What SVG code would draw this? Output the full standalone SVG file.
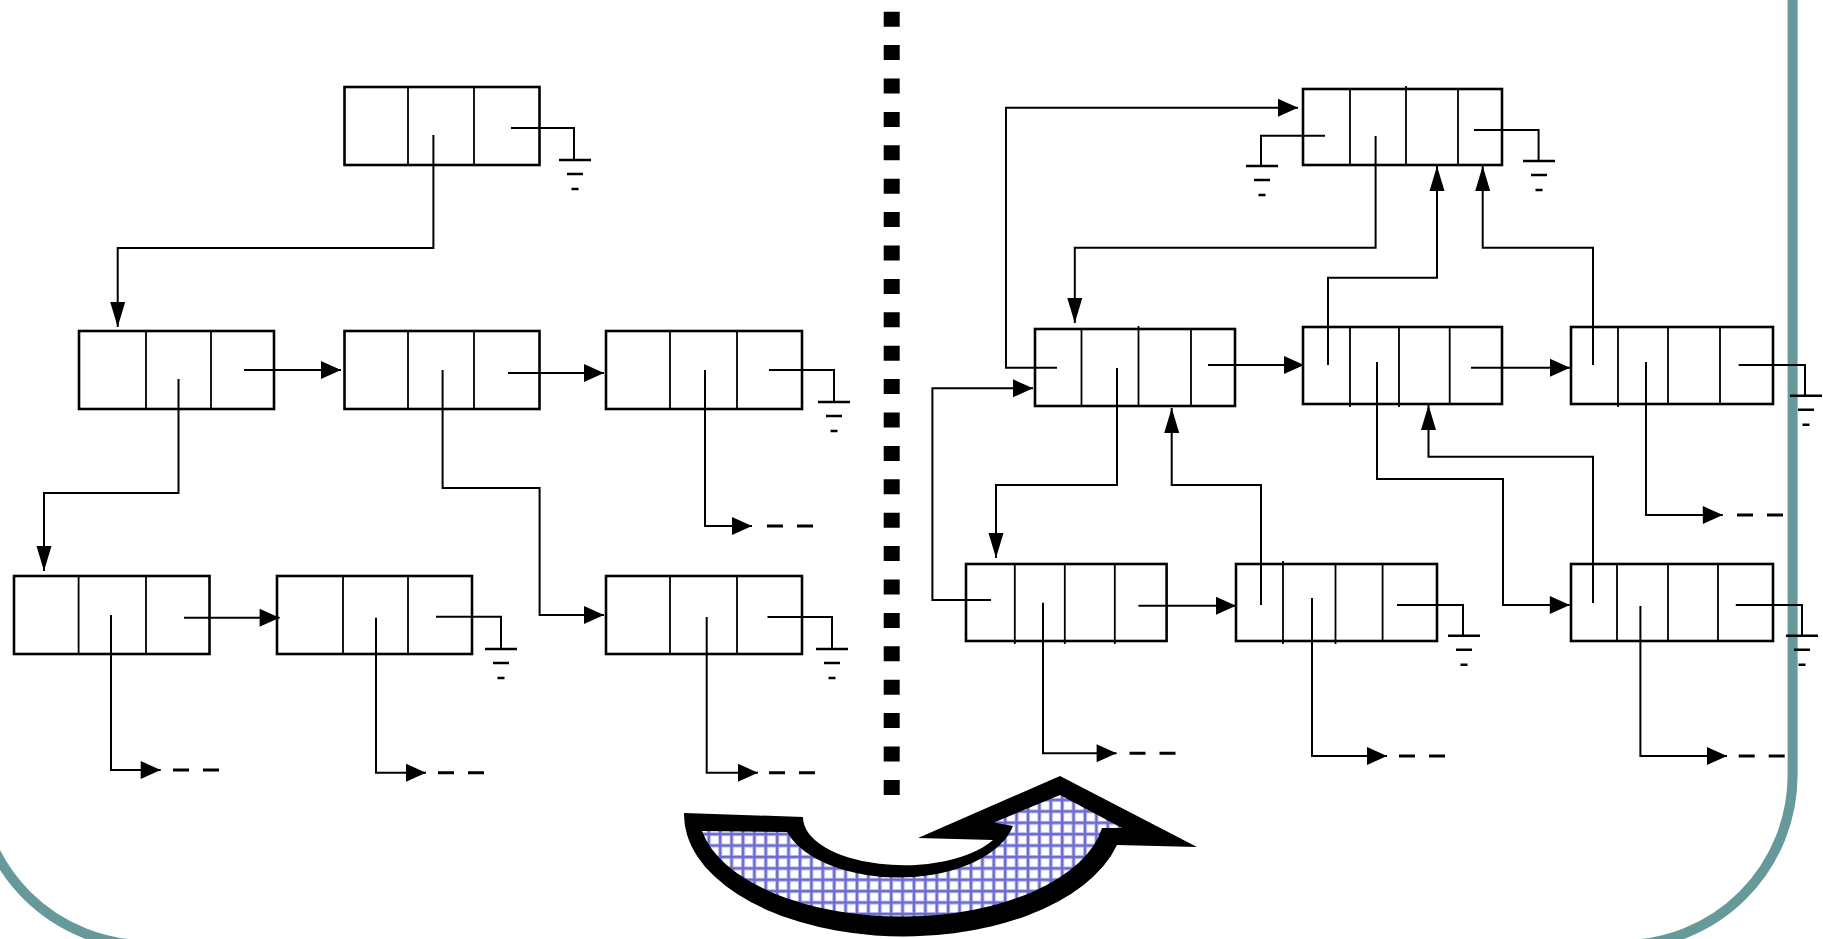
<svg xmlns="http://www.w3.org/2000/svg" width="1823" height="939" viewBox="0 0 1823 939">
<style>
 .box{fill:none;stroke:#000;stroke-width:2.6}
 .dv{fill:none;stroke:#000;stroke-width:1.8}
 .c{fill:none;stroke:#000;stroke-width:2}
 .ah{marker-end:url(#mh)}
 .av{marker-end:url(#mv)}
 .dash{fill:none;stroke:#000;stroke-width:3;stroke-dasharray:16 14}
 .g{fill:none;stroke:#000;stroke-width:2.6}
</style>
<defs>
 <marker id="mh" markerUnits="userSpaceOnUse" markerWidth="21" markerHeight="19" refX="20" refY="9" orient="auto" overflow="visible"><path d="M0,0 L20,9 L0,18 Z" fill="#000"/></marker>
 <marker id="mv" markerUnits="userSpaceOnUse" markerWidth="26" markerHeight="16" refX="25" refY="7.5" orient="auto" overflow="visible"><path d="M0,0 L25,7.5 L0,15 Z" fill="#000"/></marker>
 <g id="gnd"><path class="g" d="M-16,0H16M-8,14H8M-3.5,29H3.5"/></g>
 <pattern id="grid" patternUnits="userSpaceOnUse" width="11.4" height="11.4">
  <rect width="11.4" height="11.4" fill="#fff"/>
  <rect x="0" y="0" width="4" height="11.4" fill="#babae9"/>
  <rect x="0" y="0" width="11.4" height="4" fill="#babae9"/>
  <rect x="0.9" y="0" width="2.2" height="11.4" fill="#6a6ad0"/>
  <rect x="0" y="0.9" width="11.4" height="2.2" fill="#6a6ad0"/>
 </pattern>
</defs>
<rect width="1823" height="939" fill="#fff"/>
<rect id="frame" x="-23" y="-300" width="1815.6" height="1245" rx="170" ry="170" fill="none" stroke="#669999" stroke-width="10"/>
<line id="divider" x1="891.7" y1="11.7" x2="891.7" y2="796" stroke="#000" stroke-width="16" stroke-dasharray="15 18.4"/>

<!-- left tree nodes -->
<g id="n-l0"><rect class="box" x="344.5" y="87" width="195" height="78"/><path class="dv" d="M408,87V165M474,87V165"/></g>
<g id="n-l1"><rect class="box" x="79" y="331" width="195" height="78"/><path class="dv" d="M146,331V409M211,331V409"/></g>
<g id="n-l2"><rect class="box" x="344.5" y="331" width="195" height="78"/><path class="dv" d="M408,331V409M474,331V409"/></g>
<g id="n-l3"><rect class="box" x="606" y="331" width="196" height="78"/><path class="dv" d="M670,331V409M737,331V409"/></g>
<g id="n-l4"><rect class="box" x="14" y="576" width="195.5" height="78"/><path class="dv" d="M78.6,576V654M146,576V654"/></g>
<g id="n-l5"><rect class="box" x="277" y="576" width="195" height="78"/><path class="dv" d="M343,576V654M408,576V654"/></g>
<g id="n-l6"><rect class="box" x="606" y="576" width="196" height="78"/><path class="dv" d="M670,576V654M737,576V654"/></g>

<!-- right graph nodes -->
<g id="n-r0"><rect class="box" x="1303" y="89" width="199" height="76"/><path class="dv" d="M1350,89V165M1406,86V165M1458,89V165"/></g>
<g id="n-r1"><rect class="box" x="1035" y="329" width="200" height="77"/><path class="dv" d="M1081.5,329V406M1138.5,326V406M1191,329V406"/></g>
<g id="n-r2"><rect class="box" x="1303" y="327" width="199" height="77"/><path class="dv" d="M1350,327V407M1399,327V407M1449.7,327V404"/></g>
<g id="n-r3"><rect class="box" x="1571" y="327" width="202" height="77"/><path class="dv" d="M1618,327V407M1668,327V404M1720,327V404"/></g>
<g id="n-r4"><rect class="box" x="966" y="564" width="200.6" height="77"/><path class="dv" d="M1014.8,564V644M1064.8,564V644M1114.8,564V644"/></g>
<g id="n-r5"><rect class="box" x="1236" y="564" width="201" height="77"/><path class="dv" d="M1283,561V644M1335.5,564V644M1382.6,564V641"/></g>
<g id="n-r6"><rect class="box" x="1571" y="564" width="202" height="77"/><path class="dv" d="M1617,564V641M1668,564V641M1718,564V641"/></g>

<g id="connectors">
 <!-- left -->
 <path class="c av" d="M433.4,135V248H117.7V327"/>
 <path class="c" d="M511,128H574V160"/><use href="#gnd" x="575" y="160"/>
 <path class="c ah" d="M244,370H341"/>
 <path class="c ah" d="M508,373H604"/>
 <path class="c" d="M769,370H834V402"/><use href="#gnd" x="834" y="402"/>
 <path class="c av" d="M178.5,379V493H44V571"/>
 <path class="c ah" d="M442.6,370V488H539.6V615H604"/>
 <path class="c ah" d="M705,370V526H752"/><path class="dash" d="M767,526H813"/>
 <path class="c ah" d="M184,617.7H279.6"/>
 <path class="c" d="M436,616.7H501V649"/><use href="#gnd" x="501" y="649"/>
 <path class="c" d="M767.5,617H832V649"/><use href="#gnd" x="832" y="649"/>
 <path class="c ah" d="M111,615V770H160.7"/><path class="dash" d="M173,770H219"/>
 <path class="c ah" d="M376,617.7V772.7H426"/><path class="dash" d="M438,772.7H484"/>
 <path class="c ah" d="M706.7,617V772.7H758"/><path class="dash" d="M769,772.7H815"/>
 <!-- right -->
 <path class="c" d="M1325,135.7H1261V166"/><use href="#gnd" x="1262" y="166"/>
 <path class="c" d="M1474,130H1538.6V161"/><use href="#gnd" x="1539" y="161"/>
 <path class="c av" d="M1375.6,136V247.7H1074.8V323"/>
 <path class="c ah" d="M1057,367.7H1006V107.7H1298"/>
 <path class="c av" d="M1328,365V277.7H1437V166"/>
 <path class="c av" d="M1593,365V247.7H1482.7V166"/>
 <path class="c ah" d="M1208,365H1304"/>
 <path class="c ah" d="M1471,367.7H1570"/>
 <path class="c" d="M1738.7,365H1805V395.7"/><use href="#gnd" x="1806" y="395.7"/>
 <path class="c av" d="M1117,368V485H996V558"/>
 <path class="c ah" d="M991,600H932.4V388.3H1033"/>
 <path class="c av" d="M1261,605V485H1171.7V408"/>
 <path class="c ah" d="M1377,362V479H1503V605H1569.8"/>
 <path class="c av" d="M1593,603V456.7H1428.5V405"/>
 <path class="c ah" d="M1646,362V515H1722.8"/><path class="dash" d="M1737,515H1783"/>
 <path class="c ah" d="M1138.4,605.7H1236"/>
 <path class="c" d="M1397,605H1463V635.7"/><use href="#gnd" x="1464" y="635.7"/>
 <path class="c" d="M1735.8,605H1802V635.7"/><use href="#gnd" x="1802" y="635.7"/>
 <path class="c ah" d="M1043,602.7V753.3H1116.6"/><path class="dash" d="M1129.5,753.3H1175.5"/>
 <path class="c ah" d="M1312,598V756H1387"/><path class="dash" d="M1399,756H1445"/>
 <path class="c ah" d="M1640.4,606V756H1727"/><path class="dash" d="M1738.7,756H1784.7"/>
</g>

<g id="big-arrow">
 <path d="M684,813 L803,817 A101,48 0 0 0 993,840 L918,838 L1060,776 L1197,847 L1117,845 A220,122 0 0 1 684,813 Z" fill="#000"/>
 <path d="M702,831 L787,832 A117,65 0 0 0 1013,826 L994,822.5 L1060,795 L1122,828 L1102,828 A203,105 0 0 1 702,831 Z" fill="url(#grid)"/>
</g>
</svg>
